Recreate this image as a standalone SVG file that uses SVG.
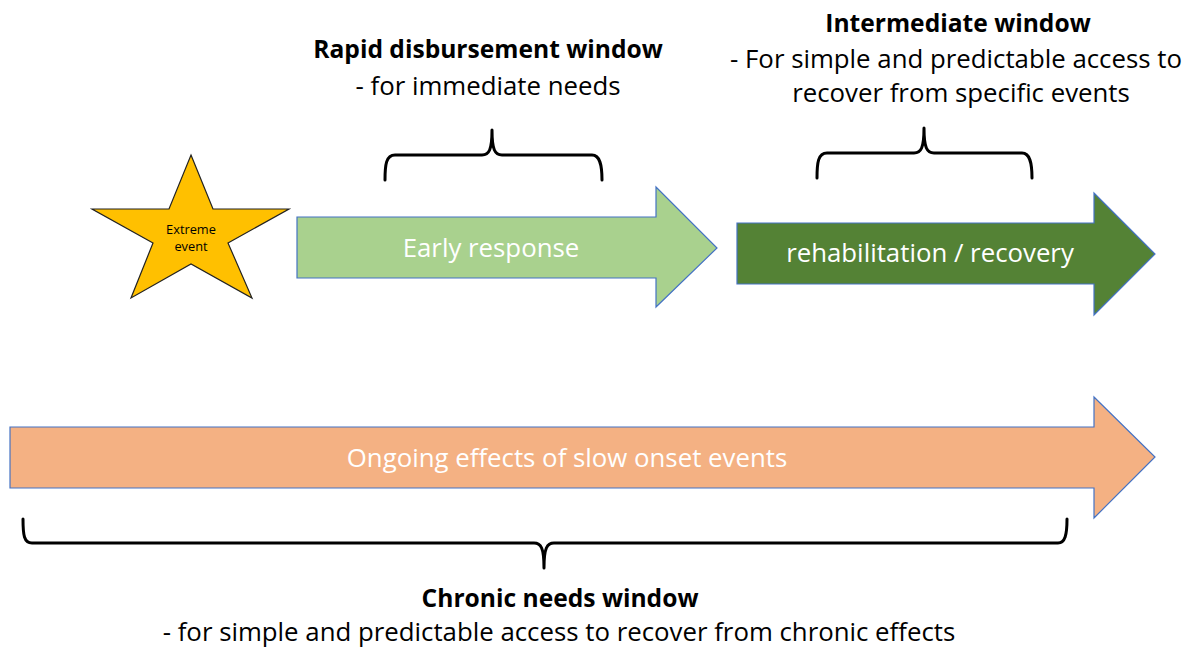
<svg xmlns="http://www.w3.org/2000/svg" width="1193" height="647" viewBox="0 0 1193 647">
<style>
.t{font-family:"Open Sans","Liberation Sans",sans-serif;fill:#000;text-anchor:middle}
.b{font-weight:bold;font-size:24.6px}
.n{font-size:25.8px}
.w{fill:#fff;font-size:25.8px}
.arr{stroke:#4472C4;stroke-width:1.2}
.brace{fill:none;stroke:#000;stroke-width:3;stroke-linejoin:round;stroke-linecap:round}
</style>
<rect width="1193" height="647" fill="#fff"/>
<g id="star">
<polygon points="191,155 213,209 289,209 228,243 252,298 191,264 131,298 153,243 92,209 169,209" fill="#FFC000" stroke="#222" stroke-width="1.2"/>
<text class="t" x="191" y="234" font-size="12.8">Extreme</text>
<text class="t" x="191" y="251" font-size="12.8">event</text>
</g>
<g id="early-response">
<polygon class="arr" points="297,217 656,217 656,187 717,248 656,307 656,278 297,278" fill="#A9D18E"/>
<text class="t w" x="491" y="257">Early response</text>
</g>
<g id="rehabilitation">
<polygon class="arr" points="737,223 1094,223 1094,193 1155,254 1094,315 1094,284 737,284" fill="#548235"/>
<text class="t w" x="930" y="262">rehabilitation / recovery</text>
</g>
<g id="ongoing">
<polygon class="arr" points="10,427 1094,427 1094,397 1155,457 1094,518 1094,488 10,488" fill="#F4B183"/>
<text class="t w" x="567" y="467">Ongoing effects of slow onset events</text>
</g>
<g id="rapid-window">
<text class="t b" x="488" y="58">Rapid disbursement window</text>
<text class="t n" x="488" y="95">- for immediate needs</text>
</g>
<g id="intermediate-window">
<text class="t b" x="958" y="32">Intermediate window</text>
<text class="t n" x="956" y="68">- For simple and predictable access to</text>
<text class="t n" x="961" y="102">recover from specific events</text>
</g>
<g id="chronic-window">
<text class="t b" x="560" y="607">Chronic needs window</text>
<text class="t n" x="559" y="641">- for simple and predictable access to recover from chronic effects</text>
</g>
<g id="connectors">
<path class="brace" d="M385,180 C385,165 386,155 395,155 L482,155 C489,155 492,150 492,130 C492,150 495,155 502,155 L592,155 C600,155 602,165 602,180"/>
<path class="brace" d="M817,178 C817,163 818,153 827,153 L914,153 C921,153 924,148 924,128 C924,148 927,153 934,153 L1022,153 C1030,153 1032,163 1032,178"/>
<path class="brace" d="M23,519 C23,535 24,543 32,543 L534,543 C541,543 544,548 544,568 C544,548 547,543 554,543 L1058,543 C1065,543 1067,535 1067,519"/>
</g>
</svg>
